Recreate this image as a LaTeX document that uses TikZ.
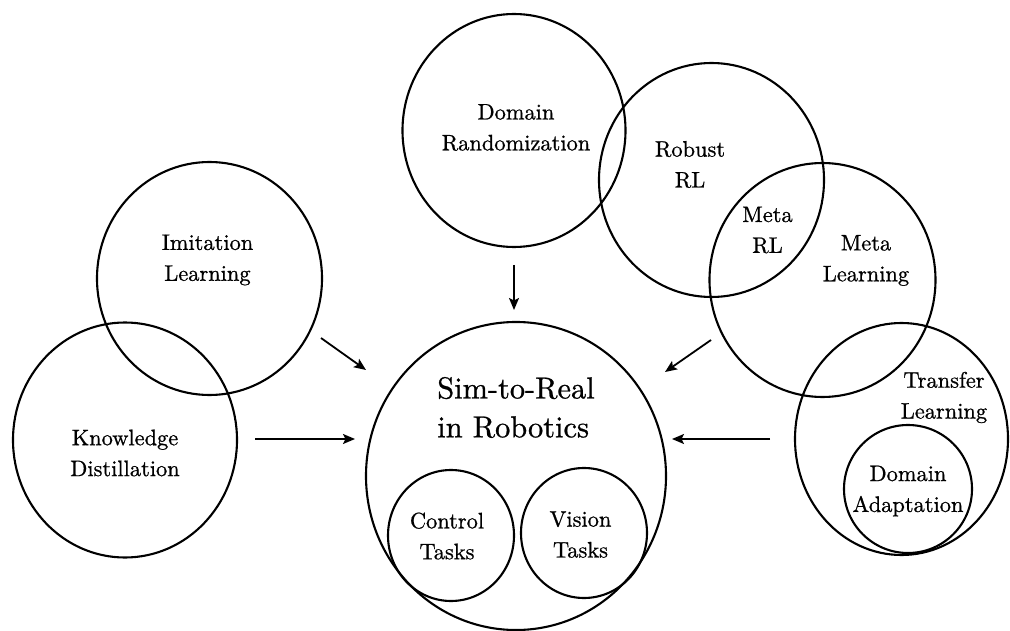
\documentclass[tikz,border=0pt]{standalone}
\usepackage{fontspec}
\newfontfamily\lblfont{lmroman10-regular.otf}[FakeBold=0.8]
\usetikzlibrary{shapes.geometric,arrows.meta}
\begin{document}
\begin{tikzpicture}[x=1bp,y=-1bp,
  ell/.style 2 args={draw, ellipse, line width=2.1bp, inner sep=0pt, minimum width=#1bp, minimum height=#2bp},
  lbl/.style={font=\lblfont\fontsize{22.5}{31}\selectfont, align=center, inner sep=0pt},
  big/.style={font=\lblfont\fontsize{30.5}{39}\selectfont, align=left, inner sep=0pt},
  arr/.style={line width=1.8bp, -{Stealth[length=12bp,width=10bp,inset=2.5bp]}}
]
\useasboundingbox (0,0) rectangle (1010,631);
% circles
\node[ell={223}{233}] (dr) at (514,130.5) {};
\node[ell={225}{234}] (rrl) at (711.5,180) {};
\node[ell={226}{234}] (ml) at (822.5,280) {};
\node[ell={225}{233}] (il) at (209.5,278.5) {};
\node[ell={224}{235}] (kd) at (125,440) {};
\node[ell={300}{308}] (sim) at (516,476) {};
\node[ell={126}{131}] (ct) at (451,535.5) {};
\node[ell={126}{130}] (vt) at (584,533) {};
\node[ell={213}{232}] (tl) at (901.5,439) {};
\node[ell={128}{128}] (da) at (908,489) {};
% labels
\node[lbl] (tdr) at (516,127.5) {Domain\\Randomization};
\node[lbl] (trrl) at (690,164.5) {Robust\\RL};
\node[lbl] (tmrl) at (767.5,230) {Meta\\RL};
\node[lbl] (tml) at (866,260.5) {Meta\\Learning};
\node[lbl] (til) at (207.5,260) {Imitation\\Learning};
\node[lbl] (tkd) at (125,453) {Knowledge\\Distillation};
\node[big] (tsim) at (516,407.5) {Sim-to-Real\\in Robotics};
\node[lbl] (tct) at (447,536) {Control\\Tasks};
\node[lbl] (tvt) at (580.5,534.5) {Vision\\Tasks};
\node[lbl] (ttl) at (944,397.5) {Transfer\\Learning};
\node[lbl] (tda) at (908,491) {Domain\\Adaptation};
% arrow end points
\coordinate (a1s) at (514,265); \coordinate (a1e) at (514,310);
\coordinate (a2s) at (711,340); \coordinate (a2e) at (665,372);
\coordinate (a3s) at (321,338); \coordinate (a3e) at (366,370);
\coordinate (a4s) at (255,439); \coordinate (a4e) at (355,439);
\coordinate (a5s) at (770,439); \coordinate (a5e) at (672,439);
\draw[arr] (a1s) -- (a1e);
\draw[arr] (a2s) -- (a2e);
\draw[arr] (a3s) -- (a3e);
\draw[arr] (a4s) -- (a4e);
\draw[arr] (a5s) -- (a5e);
\end{tikzpicture}
\end{document}
